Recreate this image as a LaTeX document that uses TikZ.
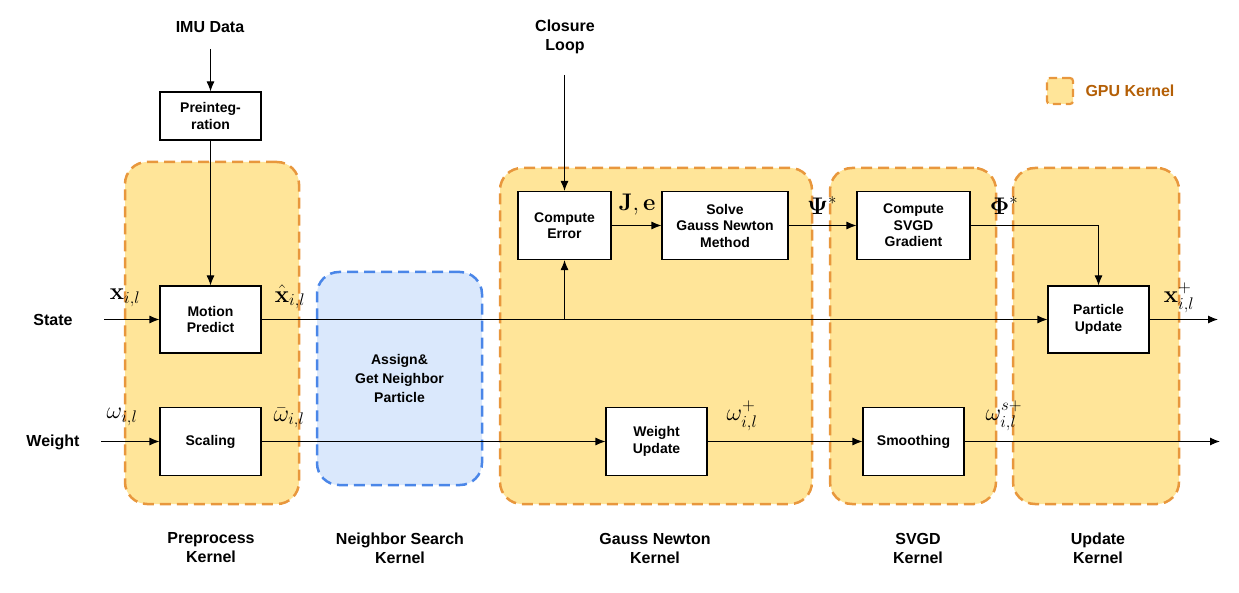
\RequirePackage{fix-cm}
\documentclass[tikz,border=0pt]{standalone}
\usepackage{amsmath}
\usepackage[no-math]{fontspec}
\setmainfont{Liberation Sans}
\usetikzlibrary{positioning}
\usetikzlibrary{calc}
\usetikzlibrary{arrows.meta}

\definecolor{kfill}{HTML}{FFE599}
\definecolor{kdraw}{HTML}{E8973D}
\definecolor{nfill}{HTML}{DAE8FC}
\definecolor{ndraw}{HTML}{4A86E8}
\definecolor{gputext}{HTML}{B45F06}

\begin{document}
\begin{tikzpicture}[x=1pt,y=-1pt]
\tikzstyle{kernel} =[rectangle,rounded corners=22pt,fill=kfill,draw=kdraw,line width=2.5pt,dash pattern=on 11pt off 6pt,inner sep=0pt]
\tikzstyle{search} =[kernel,fill=nfill,draw=ndraw]
\tikzstyle{block} =[rectangle,draw=black,fill=white,line width=1.1pt,inner sep=0pt,align=center,font=\fontsize{14}{16.5}\selectfont\bfseries]
\tikzstyle{caption} =[align=center,font=\fontsize{16}{19}\selectfont\bfseries]
\tikzstyle{var} =[inner sep=0pt,font=\fontsize{24}{28}\selectfont]
\tikzstyle{flow} =[line width=1.1pt,-{Latex[length=10pt,width=8pt]}]
\useasboundingbox (0,0) rectangle (1239,593);

% kernels
\node[kernel,minimum width=174pt,minimum height=342pt](prek) at (212,333){};
\node[search,minimum width=165pt,minimum height=213pt,align=center,font=\fontsize{14}{19}\selectfont\bfseries](nsk) at (399.5,378.5){Assign\&\\Get Neighbor\\Particle};
\node[kernel,minimum width=312pt,minimum height=336pt](gnk) at (656,336){};
\node[kernel,minimum width=166pt,minimum height=336pt](svk) at (913,336){};
\node[kernel,minimum width=166pt,minimum height=336pt](upk) at (1096,336){};

% legend
\node[kernel,rounded corners=3pt,line width=2.2pt,dash pattern=on 8pt off 5pt,minimum size=26pt](leg) at (1060,91){};
\node[caption,text=gputext,anchor=west](legtext) at (1082,91){GPU Kernel};

% blocks
\node[block,minimum width=101pt,minimum height=48pt](preint) at (210.5,116){Preinteg-\\ration};
\node[block,minimum width=101pt,minimum height=67pt](motion) at (210.5,319.5){Motion\\Predict};
\node[block,minimum width=101pt,minimum height=68pt](scale) at (210.5,441.5){Scaling};
\node[block,minimum width=93pt,minimum height=68pt](error) at (564.5,225.5){Compute\\Error};
\node[block,minimum width=126pt,minimum height=68pt](solve) at (725,225.5){Solve\\Gauss Newton\\Method};
\node[block,minimum width=113pt,minimum height=68pt](grad) at (913.5,225.5){Compute\\SVGD\\Gradient};
\node[block,minimum width=101pt,minimum height=67pt](pupd) at (1098.5,319.5){Particle\\Update};
\node[block,minimum width=101pt,minimum height=68pt](wupd) at (656.5,441.5){Weight\\Update};
\node[block,minimum width=101pt,minimum height=68pt](smooth) at (913.5,441.5){Smoothing};

% inputs and captions
\node[caption](imu) at (210,27){IMU Data};
\node[caption](closure) at (565,37){Closure\\Loop};
\node[caption](state) at (53,320){State};
\node[caption](weight) at (53,442){Weight};
\node[caption](prel) at (211,548){Preprocess\\Kernel};
\node[caption](nsl) at (400,548){Neighbor Search\\Kernel};
\node[caption](gnl) at (655,548){Gauss Newton\\Kernel};
\node[caption](svl) at (918,548){SVGD\\Kernel};
\node[caption](upl) at (1098,548){Update\\Kernel};

\coordinate (imuin) at (210.5,49);
\coordinate (closin) at (564.5,75);
\coordinate (statein) at (104,319.5);
\coordinate (weightin) at (101,441.5);
\coordinate (branch) at (564.5,319.5);
\coordinate (stateout) at (1218,319.5);
\coordinate (weightout) at (1220,441.5);

% connectors
\draw[flow] (imuin)--(preint.north);
\draw[flow] (preint.south)--(motion.north);
\draw[flow] (statein)--(motion.west);
\draw[flow] (motion.east)--(pupd.west);
\draw[flow] (branch)--(error.south);
\draw[flow] (closin)--(error.north);
\draw[flow] (error.east)--(solve.west);
\draw[flow] (solve.east)--(grad.west);
\draw[flow] (grad.east)-|(pupd.north);
\draw[flow] (pupd.east)--(stateout);
\draw[flow] (weightin)--(scale.west);
\draw[flow] (scale.east)--(wupd.west);
\draw[flow] (wupd.east)--(smooth.west);
\draw[flow] (smooth.east)--(weightout);

% variables
\node[var](xin) at (125,298){$\mathbf{x}_{i,l}$};
\node[var](xhat) at (290,297){$\hat{\mathbf{x}}_{i,l}$};
\node[var](win) at (122,417){$\omega_{i,l}$};
\node[var](wbar) at (289,418){$\bar{\omega}_{i,l}$};
\node[var](je) at (637,205){$\mathbf{J},\mathbf{e}$};
\node[var](psi) at (822,206){$\boldsymbol{\Psi}^{*}$};
\node[var](phi) at (1004,206){$\boldsymbol{\Phi}^{*}$};
\node[var](wplus) at (742,416){$\omega^{+}_{i,l}$};
\node[var](wsplus) at (1004,416){$\omega^{s+}_{i,l}$};
\node[var](xplus) at (1179,298){$\mathbf{x}^{+}_{i,l}$};
\end{tikzpicture}
\end{document}
